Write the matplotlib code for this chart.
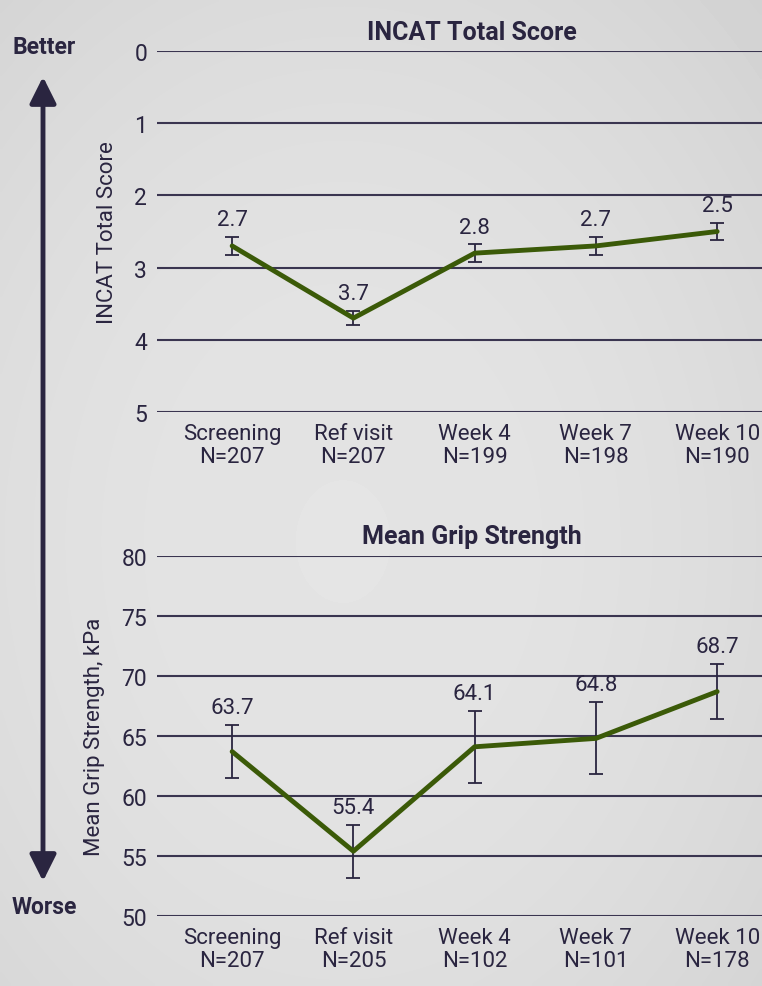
import numpy as np
import matplotlib.pyplot as plt
from matplotlib.patches import FancyArrowPatch

# Visits and sample sizes
visits = ["Screening", "Ref visit", "Week 4", "Week 7", "Week 10"]
n_incat = [207, 207, 199, 198, 190]
n_grip = [207, 205, 102, 101, 178]

# INCAT total score (mean and error)
incat_mean = [2.7, 3.7, 2.8, 2.7, 2.5]
incat_err = [0.12, 0.10, 0.12, 0.13, 0.12]

# Mean grip strength, kPa (mean and error)
grip_mean = [63.7, 55.4, 64.1, 64.8, 68.7]
grip_err = [2.2, 2.2, 3.0, 3.0, 2.3]

TXT = "#2a2540"
GRID = "#3a3550"
GREEN = "#3b5a08"
FS = 16
plt.rcParams['font.family'] = ['Roboto', 'DejaVu Sans']

fig = plt.figure(figsize=(7.62, 9.87), dpi=100)

# soft grey background, a bit darker toward the edges
bg = fig.add_axes([0, 0, 1, 1], zorder=-10)
yy, xx = np.mgrid[0:1:200j, 0:1:200j]
r = (xx - 0.45) ** 2 + (yy - 0.55) ** 2
shade = 0.895 - 0.12 * r
bg.imshow(shade, cmap="gray", vmin=0, vmax=1, aspect="auto", extent=[0, 1, 0, 1],
          interpolation="bilinear")
bg.axis("off")

x = np.arange(len(visits))


def panel(rect, means, errs, ns, ylim, ticks, ylabel, title):
    ax = fig.add_axes(rect)
    ax.set_facecolor("none")
    ax.set_xlim(-0.62, 4.37)
    ax.set_ylim(*ylim)
    ax.set_yticks(ticks)
    ax.set_yticklabels([str(t) for t in ticks])
    ax.grid(axis="y", color=GRID, lw=1.5)
    ax.set_axisbelow(True)
    for s in ax.spines.values():
        s.set_visible(False)
    ax.tick_params(axis="y", length=0, pad=7, labelsize=FS + 0.5, labelcolor=TXT)
    ax.tick_params(axis="x", length=0, pad=8, labelsize=FS, labelcolor=TXT)
    ax.set_xticks(x)
    ax.set_xticklabels([f"{v}\nN={n}" for v, n in zip(visits, ns)], linespacing=1.1)
    ax.errorbar(x, means, yerr=errs, fmt="none", ecolor=TXT, elinewidth=1.3,
                capsize=5, capthick=1.3, zorder=2)
    ax.plot(x, means, color=GREEN, lw=3.5, zorder=3, solid_capstyle="round")
    for xi, m, e in zip(x, means, errs):
        top = m - e if ylim[0] > ylim[1] else m + e
        ax.annotate(f"{m:.1f}", (xi, top), xytext=(0, 5), textcoords="offset points",
                    ha="center", va="bottom", fontsize=FS, color=TXT)
    ax.set_ylabel(ylabel, fontsize=FS, color=TXT, labelpad=12)
    ax.set_title(title, fontsize=18, fontweight="bold", color=TXT, pad=9, x=0.52)
    return ax


panel([0.206, 0.5816, 0.794, 0.3657], incat_mean, incat_err, n_incat,
      (5, 0), [0, 1, 2, 3, 4, 5], "INCAT Total Score", "INCAT Total Score")
panel([0.206, 0.0709, 0.794, 0.3648], grip_mean, grip_err, n_grip,
      (50, 80), [50, 55, 60, 65, 70, 75, 80], "Mean Grip Strength, kPa",
      "Mean Grip Strength")

# better / worse arrow
fig.text(44 / 762, 1 - 48 / 987, "Better", ha="center", va="center",
         fontsize=16.5, fontweight="bold", color=TXT)
fig.text(44 / 762, 1 - 908 / 987, "Worse", ha="center", va="center",
         fontsize=16.5, fontweight="bold", color=TXT)
fig.patches.append(FancyArrowPatch(
    (43 / 762, 1 - 885 / 987), (43 / 762, 1 - 75 / 987), transform=fig.transFigure,
    arrowstyle="<|-|>,head_length=10,head_width=5", lw=3.5, color=TXT,
    mutation_scale=1.6))

fig.savefig("out.png", dpi=100)
